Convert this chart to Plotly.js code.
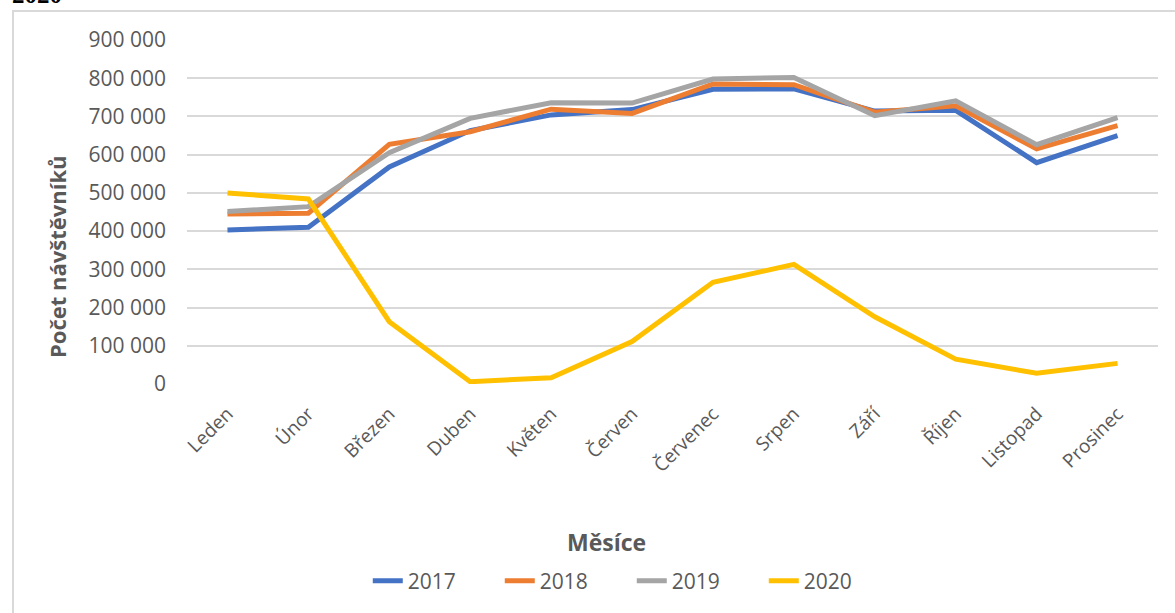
<!DOCTYPE html>
<html>
<head>
<meta charset="utf-8">
<script src="https://cdn.plot.ly/plotly-3.0.1.min.js"></script>
<style>
  html, body { margin: 0; padding: 0; background: #ffffff; overflow: hidden; }
  #wrap { position: relative; width: 1175px; height: 613px; }
  #frame { position: absolute; left: 12px; top: 10px; width: 1200px; height: 700px;
           border-left: 2px solid #d9d9d9; border-top: 2px solid #d9d9d9; }
  #heading { position: absolute; left: 12px; top: -18px; font-family: "Liberation Serif", serif;
             font-weight: bold; font-size: 25px; line-height: 25px; color: #000; }
  #chart { position: absolute; left: 0; top: 0; width: 1175px; height: 613px; }
</style>
</head>
<body>
<div id="wrap">
  <div id="frame"></div>
  <div id="heading">2020</div>
  <div id="chart"></div>
</div>
<script>
const months = ["Leden", "Únor", "Březen", "Duben", "Květen", "Červen", "Červenec", "Srpen", "Září", "Říjen", "Listopad", "Prosinec"];
const v2017 = [403000, 410000, 568000, 663000, 704000, 718000, 771000, 772000, 714000, 716000, 579000, 650000];
const v2018 = [445000, 447000, 627000, 660000, 719000, 708000, 785000, 783000, 711000, 728000, 615000, 676000];
const v2019 = [451000, 464000, 605000, 695000, 736000, 735000, 798000, 802000, 702000, 741000, 626000, 697000];
const v2020 = [500000, 484000, 163000, 6000, 16500, 111000, 266000, 313000, 176000, 65000, 28000, 54000];
const yTicks = [0, 100000, 200000, 300000, 400000, 500000, 600000, 700000, 800000, 900000];
const yTickText = ["0", "100 000", "200 000", "300 000", "400 000", "500 000", "600 000", "700 000", "800 000", "900 000"];
const yTitle = "Počet návštěvníků";
const xTitle = "Měsíce";

const series = [
  {name: "2017", y: v2017, color: "#4472C4"},
  {name: "2018", y: v2018, color: "#ED7D31"},
  {name: "2019", y: v2019, color: "#A5A5A5"},
  {name: "2020", y: v2020, color: "#FFC000"}
];

const traces = series.map(s => ({
  type: "scatter", mode: "lines", name: s.name, x: months, y: s.y,
  line: {color: s.color, width: 5, shape: "linear"}
}));

const font = "'Open Sans', 'Noto Sans', sans-serif";

const layout = {
  width: 1175, height: 613,
  paper_bgcolor: "rgba(0,0,0,0)", plot_bgcolor: "rgba(0,0,0,0)",
  margin: {l: 187, r: 17, t: 40, b: 229},
  font: {family: font, color: "#595959", size: 20},
  showlegend: true,
  legend: {orientation: "h", x: 0.313, xanchor: "left", xref: "container",
           y: 0.052, yanchor: "middle", yref: "container",
           font: {size: 21, color: "#595959"}, traceorder: "normal",
           entrywidth: 87, entrywidthmode: "pixels"},
  xaxis: {
    type: "category", range: [-0.5, 11.5], tickangle: -45, showgrid: false, zeroline: false, showline: false,
    ticks: "", tickfont: {size: 19, color: "#595959"}, ticklabelstandoff: 14, automargin: false
  },
  yaxis: {
    range: [0, 900000], tickvals: yTicks, ticktext: yTickText, showgrid: true,
    gridcolor: "#d9d9d9", gridwidth: 2, zeroline: false, showline: false, ticks: "",
    tickfont: {size: 21, color: "#595959"}, ticklabelstandoff: 20, automargin: false
  },
  annotations: [{
    text: "<b>" + yTitle + "</b>", xref: "paper", yref: "paper", x: -0.1339, y: 0.372,
    xanchor: "center", yanchor: "middle", textangle: -90, showarrow: false,
    font: {size: 22, color: "#595959", family: font}
  }, {
    text: "<b>" + xTitle + "</b>", xref: "paper", yref: "paper", x: 0.4325, y: -0.4593,
    xanchor: "center", yanchor: "middle", showarrow: false,
    font: {size: 23, color: "#595959", family: font}
  }]
};

Plotly.newPlot("chart", traces, layout, {displayModeBar: false, staticPlot: true});
</script>
</body>
</html>
